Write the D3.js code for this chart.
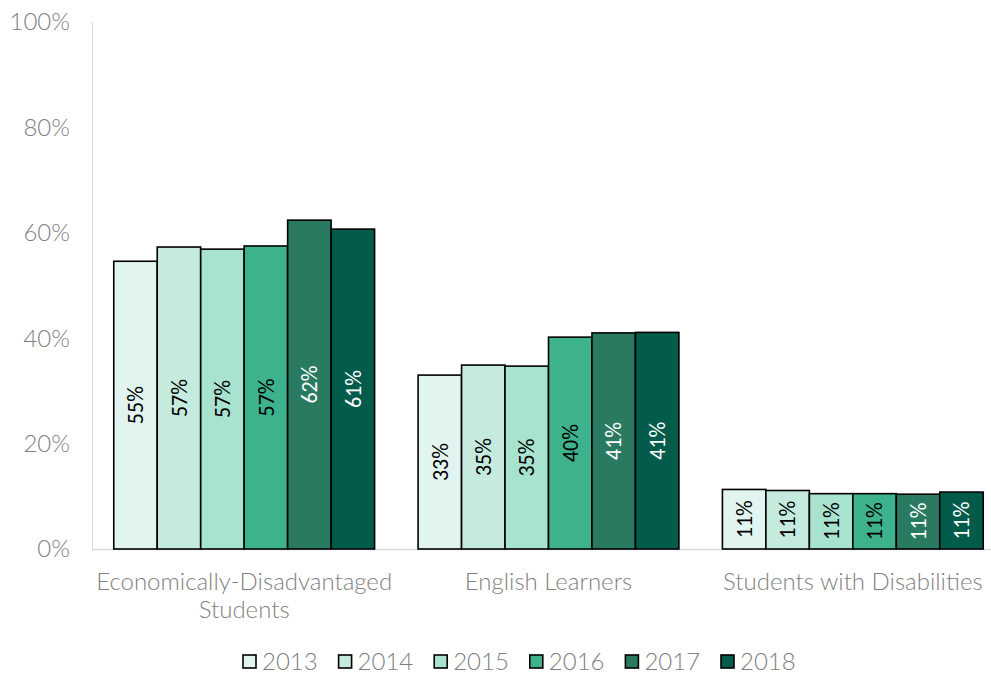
<!DOCTYPE html>
<html><head><meta charset="utf-8">
<script src="https://cdn.jsdelivr.net/npm/d3@7"></script>
<style>body{margin:0;background:#fff}svg{display:block}</style>
</head><body>
<svg id="c" width="991" height="674"></svg>
<script>
const categories = [["Economically-Disadvantaged","Students"],["English Learners"],["Students with Disabilities"]];
const years = ["2013","2014","2015","2016","2017","2018"];
const values2013 = [54.6, 33.0, 11.3];
const values2014 = [57.3, 34.9, 11.1];
const values2015 = [56.9, 34.7, 10.5];
const values2016 = [57.5, 40.2, 10.5];
const values2017 = [62.4, 41.0, 10.4];
const values2018 = [60.7, 41.1, 10.8];
const dataLabels = [["55%","33%","11%"],["57%","35%","11%"],["57%","35%","11%"],["57%","40%","11%"],["62%","41%","11%"],["61%","41%","11%"]];
const yTicks = [0,20,40,60,80,100];
const colors = ["#E2F4EF","#C5EBDF","#A8E3D0","#3DB28D","#2A7A62","#035B4B"];
const labelColors = ["#000","#000","#000","#000","#fff","#fff"];
const series = [values2013,values2014,values2015,values2016,values2017,values2018];

const svg = d3.select("#c");
const y = d3.scaleLinear().domain([0,100]).range([549,22]);
const x0 = d3.scaleBand().domain(d3.range(categories.length)).range([92,1005]).paddingInner(0.143).paddingOuter(0.0715);
const x1 = d3.scaleBand().domain(d3.range(years.length)).range([0,x0.bandwidth()]);

// axes lines
svg.append("line").attr("x1",92.5).attr("x2",92.5).attr("y1",22).attr("y2",549).attr("stroke","#d9d9d9").attr("stroke-width",1);
svg.append("line").attr("x1",92).attr("x2",991).attr("y1",549.5).attr("y2",549.5).attr("stroke","#d9d9d9").attr("stroke-width",1.5);

// y tick labels
svg.selectAll(".yt").data(yTicks).enter().append("text")
  .attr("x",70).attr("y",d=>y(d)).attr("dy","0.35em").attr("text-anchor","end")
  .attr("font-family","Lato").attr("font-weight",300).attr("font-size",24).attr("fill","#7f7f7f")
  .text(d=>d+"%");

// bars
const g = svg.append("g");
series.forEach((vals,si)=>{
  vals.forEach((v,ci)=>{
    const bx = x0(ci)+x1(si);
    g.append("rect").attr("x",bx).attr("y",y(v)).attr("width",x1.bandwidth()).attr("height",y(0)-y(v))
      .attr("fill",colors[si]).attr("stroke","#000").attr("stroke-width",1.6);
    const cx = bx + x1.bandwidth()/2, cy = (y(v)+y(0))/2;
    g.append("text").attr("transform",`translate(${cx},${cy}) rotate(-90)`)
      .attr("text-anchor","middle").attr("dy","0.35em")
      .attr("font-family","Carlito, Lato, sans-serif").attr("font-size",22).attr("fill",labelColors[si])
      .text(dataLabels[si][ci]);
  });
});

// category labels
categories.forEach((lines,ci)=>{
  const cx = x0(ci)+x0.bandwidth()/2;
  const t = svg.append("text").attr("x",cx).attr("y",590).attr("text-anchor","middle")
    .attr("font-family","Lato").attr("font-weight",300).attr("font-size",24).attr("fill","#7f7f7f");
  lines.forEach((l,i)=>t.append("tspan").attr("x",cx).attr("dy",i===0?0:28).text(l));
});

// legend
const lg = svg.append("g");
years.forEach((yr,i)=>{
  const lx = 243 + i*95.6;
  lg.append("rect").attr("x",lx).attr("y",655).attr("width",13).attr("height",13)
    .attr("fill",colors[i]).attr("stroke","#000").attr("stroke-width",1.6);
  lg.append("text").attr("x",lx+19).attr("y",662).attr("dy","0.35em")
    .attr("font-family","Lato").attr("font-weight",300).attr("font-size",24).attr("fill","#7f7f7f").text(yr);
});
</script>
</body></html>
